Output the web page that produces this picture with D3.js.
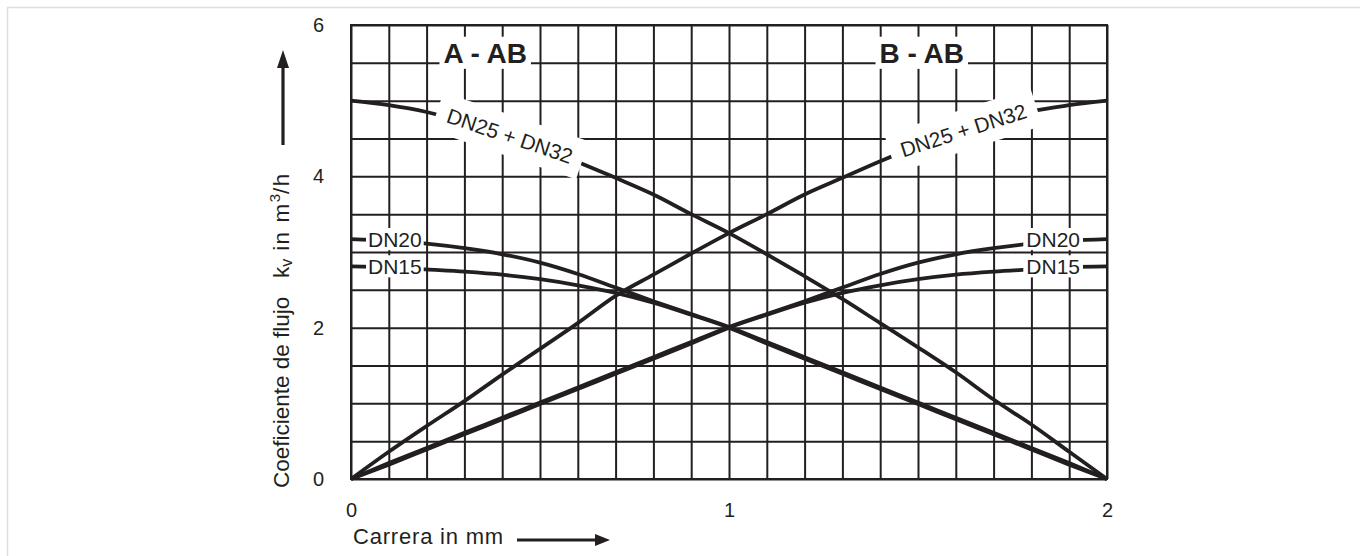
<!DOCTYPE html>
<html>
<head>
<meta charset="utf-8">
<script src="https://cdn.jsdelivr.net/npm/d3@7"></script>
<style>
  body { margin: 0; background: #fff; }
  svg { display: block; font-family: "Liberation Sans", Arial, sans-serif; }
</style>
</head>
<body>
<svg id="chart" width="1360" height="556"></svg>
<script>
// stroke positions (mm)
const carrera = [0, 0.1, 0.2, 0.3, 0.4, 0.5, 0.6, 0.7, 0.8, 0.9, 1.0,
                 1.1, 1.2, 1.3, 1.4, 1.5, 1.6, 1.7, 1.8, 1.9, 2.0];

// A - AB (falling curves)
const kvA_DN25 = [5.00, 4.94, 4.85, 4.72, 4.57, 4.40, 4.19, 3.98, 3.76, 3.50, 3.25,
                  2.97, 2.68, 2.38, 2.06, 1.74, 1.41, 1.05, 0.72, 0.36, 0];
const kvA_DN20 = [3.17, 3.15, 3.11, 3.05, 2.97, 2.86, 2.71, 2.53, 2.35, 2.18, 2.01,
                  1.81, 1.61, 1.41, 1.21, 1.01, 0.81, 0.61, 0.41, 0.21, 0];
const kvA_DN15 = [2.81, 2.80, 2.77, 2.74, 2.70, 2.64, 2.56, 2.46, 2.33, 2.17, 2.00,
                  1.79, 1.59, 1.39, 1.19, 0.99, 0.79, 0.59, 0.39, 0.19, 0];

// B - AB (rising curves)
const kvB_DN25 = [0, 0.36, 0.70, 1.03, 1.38, 1.72, 2.06, 2.42, 2.70, 2.98, 3.25,
                  3.50, 3.76, 3.98, 4.20, 4.40, 4.58, 4.73, 4.86, 4.94, 5.00];
const kvB_DN20 = [0, 0.21, 0.41, 0.61, 0.81, 1.01, 1.21, 1.41, 1.61, 1.81, 2.01,
                  2.18, 2.35, 2.53, 2.71, 2.86, 2.97, 3.05, 3.11, 3.15, 3.17];
const kvB_DN15 = [0, 0.19, 0.39, 0.59, 0.79, 0.99, 1.19, 1.39, 1.59, 1.79, 2.00,
                  2.17, 2.33, 2.46, 2.56, 2.64, 2.70, 2.74, 2.77, 2.80, 2.81];

const xTicks = [0, 1, 2];
const yTicks = [0, 2, 4, 6];
const xGridVals = d3.range(0, 21).map(i => i / 10);
const yGridVals = d3.range(0, 13).map(i => i / 2);

const svg = d3.select("#chart");
const width = +svg.attr("width");
const height = +svg.attr("height");
const margin = { top: 25, right: 253, bottom: 77, left: 351 };
const ink = "#231f20";

const x = d3.scaleLinear().domain([0, 2]).range([margin.left, width - margin.right]);
const y = d3.scaleLinear().domain([0, 6]).range([height - margin.bottom, margin.top]);

// faint page frame (top + left)
svg.append("path")
  .attr("d", `M7.5,${height}V7.5H${width}`)
  .attr("fill", "none")
  .attr("stroke", "#dddddd")
  .attr("stroke-width", 1.5);

// Grid
svg.append("g")
  .attr("transform", `translate(0, ${y(0)})`)
  .call(d3.axisBottom(x).tickValues(xGridVals).tickSize(-(y(0) - y(6))).tickFormat(""))
  .call(g => g.select(".domain").remove())
  .selectAll("line")
  .attr("stroke", ink)
  .attr("stroke-width", 2);

svg.append("g")
  .attr("transform", `translate(${x(0)}, 0)`)
  .call(d3.axisLeft(y).tickValues(yGridVals).tickSize(-(x(2) - x(0))).tickFormat(""))
  .call(g => g.select(".domain").remove())
  .selectAll("line")
  .attr("stroke", ink)
  .attr("stroke-width", 2);

svg.append("rect")
  .attr("x", x(0))
  .attr("y", y(6))
  .attr("width", x(2) - x(0))
  .attr("height", y(0) - y(6))
  .attr("fill", "none")
  .attr("stroke", ink)
  .attr("stroke-width", 2);

// Curves
const line = d3.line()
  .x((d, i) => x(carrera[i]))
  .y(d => y(d))
  .curve(d3.curveMonotoneX);

[kvA_DN25, kvA_DN20, kvA_DN15, kvB_DN25, kvB_DN20, kvB_DN15].forEach(s => {
  svg.append("path")
    .datum(s)
    .attr("fill", "none")
    .attr("stroke", ink)
    .attr("stroke-width", 3.8)
    .attr("stroke-linejoin", "round")
    .attr("d", line);
});

function kvAt(series, xv) {
  const i = Math.min(carrera.length - 2, Math.max(0, d3.bisectRight(carrera, xv) - 1));
  const t = (xv - carrera[i]) / (carrera[i + 1] - carrera[i]);
  return series[i] + t * (series[i + 1] - series[i]);
}

// label with white box along a curve
function curveLabel(series, xv, text) {
  const cx = x(xv), cy = y(kvAt(series, xv));
  const dx = x(xv + 0.15) - x(xv - 0.15);
  const dy = y(kvAt(series, xv + 0.15)) - y(kvAt(series, xv - 0.15));
  const ang = Math.atan2(dy, dx) * 180 / Math.PI;
  const g = svg.append("g").attr("transform", `translate(${cx},${cy}) rotate(${ang})`);
  const rect = g.append("rect").attr("fill", "#fff");
  const t = g.append("text")
    .attr("text-anchor", "middle")
    .attr("dy", "0.36em")
    .attr("font-size", 21)
    .attr("fill", ink)
    .text(text);
  const w = t.node().getComputedTextLength() + 22;
  rect.attr("x", -w / 2).attr("y", -20).attr("width", w).attr("height", 40);
}

curveLabel(kvA_DN25, 0.42, "DN25 + DN32");
curveLabel(kvB_DN25, 1.62, "DN25 + DN32");

// flat label with white box
function flatLabel(text, px, py, anchor, size, weight, padX, padTop, padBottom) {
  const g = svg.append("g");
  const rect = g.append("rect").attr("fill", "#fff");
  const t = g.append("text")
    .attr("x", px)
    .attr("y", py)
    .attr("text-anchor", anchor)
    .attr("font-size", size)
    .attr("font-weight", weight)
    .attr("fill", ink)
    .text(text);
  const b = t.node().getBBox();
  rect.attr("x", b.x - padX).attr("width", b.width + 2 * padX)
    .attr("y", py - size * 0.72 - padTop).attr("height", size * 0.72 + padTop + padBottom);
}

flatLabel("DN20", x(0) + 17, y(kvA_DN20[0]) + 8, "start", 21, "normal", 2, 4, 3);
flatLabel("DN15", x(0) + 17, y(kvA_DN15[0]) + 8, "start", 21, "normal", 2, 4, 3);
flatLabel("DN20", x(2) - 27, y(kvB_DN20[20]) + 8, "end", 21, "normal", 3, 4, 3);
flatLabel("DN15", x(2) - 27, y(kvB_DN15[20]) + 8, "end", 21, "normal", 3, 4, 3);

flatLabel("A - AB", x(0.355), y(5.5), "middle", 28, "bold", 4, 6, 6);
flatLabel("B - AB", x(1.51), y(5.5), "middle", 28, "bold", 4, 6, 6);

// Tick labels
svg.append("g")
  .attr("transform", `translate(0, ${y(0)})`)
  .call(d3.axisBottom(x).tickValues(xTicks).tickSize(0).tickPadding(24).tickFormat(d3.format("d")))
  .call(g => g.select(".domain").remove())
  .attr("font-size", 20)
  .attr("font-family", null)
  .selectAll("text").attr("fill", ink);

svg.append("g")
  .attr("transform", `translate(${x(0)}, 0)`)
  .call(d3.axisLeft(y).tickValues(yTicks).tickSize(0).tickPadding(27).tickFormat(d3.format("d")))
  .call(g => g.select(".domain").remove())
  .attr("font-size", 20)
  .attr("font-family", null)
  .selectAll("text").attr("fill", ink);

// Axis titles
svg.append("text")
  .attr("x", x(0) + 2)
  .attr("y", height - 12)
  .attr("font-size", 22)
  .attr("letter-spacing", 0.8)
  .attr("fill", ink)
  .text("Carrera in mm");

// x arrow
const xArrowY = height - 16;
svg.append("line")
  .attr("x1", 517).attr("x2", 598)
  .attr("y1", xArrowY).attr("y2", xArrowY)
  .attr("stroke", ink).attr("stroke-width", 3.2);
svg.append("path")
  .attr("d", `M610,${xArrowY}L595,${xArrowY - 6}L595,${xArrowY + 6}Z`)
  .attr("fill", ink);

const yTitle = svg.append("text")
  .attr("transform", `translate(289, 488) rotate(-90)`)
  .attr("font-size", 22.5)
  .attr("fill", ink)
  .style("white-space", "pre");
yTitle.append("tspan").text("Coeficiente de flujo   k");
yTitle.append("tspan").attr("font-size", 16).attr("dy", 3).text("v");
yTitle.append("tspan").attr("dy", -3).attr("letter-spacing", 1.5).text(" in m");
yTitle.append("tspan").attr("font-size", 15).attr("dy", -9).text("3");
yTitle.append("tspan").attr("dy", 9).attr("letter-spacing", 1.5).text("/h");

// y arrow
const yArrowX = 283;
svg.append("line")
  .attr("x1", yArrowX).attr("x2", yArrowX)
  .attr("y1", 145).attr("y2", 64)
  .attr("stroke", ink).attr("stroke-width", 3.2);
svg.append("path")
  .attr("d", `M${yArrowX},50L${yArrowX - 6},68L${yArrowX + 6},68Z`)
  .attr("fill", ink);
</script>
</body>
</html>
